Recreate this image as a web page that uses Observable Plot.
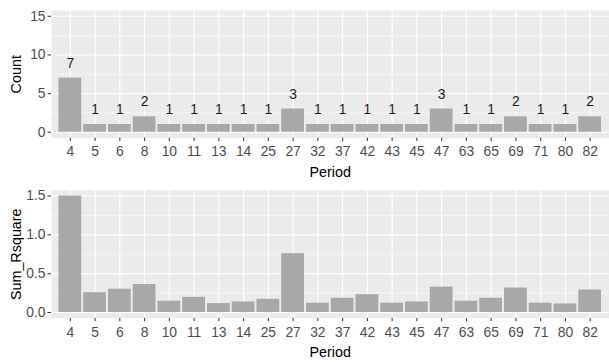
<!DOCTYPE html>
<html>
<head>
<meta charset="utf-8">
<script src="https://cdn.jsdelivr.net/npm/d3@7"></script>
<script src="https://cdn.jsdelivr.net/npm/@observablehq/plot@0.6"></script>
<style>
  html, body { margin: 0; padding: 0; background: #fff; overflow: hidden; }
  #wrap { width: 609px; height: 362px; overflow: hidden; }
  #wrap svg { display: block; }
</style>
</head>
<body>
<div id="wrap"></div>
<script>
const periods = ["4","5","6","8","10","11","13","14","25","27","32","37","42","43","45","47","63","65","69","71","80","82"];
const counts = [7,1,1,2,1,1,1,1,1,3,1,1,1,1,1,3,1,1,2,1,1,2];
const sumRsquare = [1.5,0.255,0.30,0.36,0.145,0.195,0.115,0.136,0.17,0.757,0.12,0.183,0.23,0.12,0.136,0.327,0.145,0.183,0.315,0.12,0.11,0.29];
const countTicks = [0,5,10,15];
const countMinor = [2.5,7.5,12.5];
const rsqTicks = [0,0.5,1.0,1.5];
const rsqMinor = [0.25,0.75,1.25];

const topData = periods.map((p,i) => ({period: p, count: counts[i]}));
const botData = periods.map((p,i) => ({period: p, value: sumRsquare[i]}));

const FONT = "'Liberation Sans', Arial, sans-serif";
const W = 615;
const common = {
  width: W, height: 181, marginLeft: 51.5, marginRight: 0.5,
  style: {fontFamily: FONT, fontSize: "14px", background: "transparent", overflow: "visible"}
};
const xScale = {type: "band", domain: periods, paddingInner: 0.1, paddingOuter: 0.15, label: null};

function panel(data, yKey, yDomain, ticks, minor, fmt, yLabel, mTop, mBottom, extra) {
  return Plot.plot({
    ...common,
    marginTop: mTop, marginBottom: mBottom,
    x: xScale,
    y: {domain: yDomain, label: null},
    marks: [
      Plot.frame({fill: "#EBEBEB", stroke: null}),
      Plot.ruleY(minor, {stroke: "#fff", strokeWidth: 0.55}),
      Plot.ruleY(ticks, {stroke: "#fff", strokeWidth: 1.1}),
      Plot.ruleX(periods, {x: d => d, stroke: "#fff", strokeWidth: 1.1}),
      Plot.barY(data, {x: "period", y: yKey, fill: "#A8A8A8"}),
      ...extra,
      Plot.axisX({tickSize: 3.5, tickPadding: 5, stroke: "#333", fill: "#4D4D4D",
        label: "Period", labelAnchor: "center", labelArrow: "none", labelOffset: 39}),
      Plot.axisY({ticks: ticks, tickFormat: fmt, tickSize: 3.5, tickPadding: 2.5,
        stroke: "#333", fill: "#4D4D4D",
        label: yLabel, labelAnchor: "center", labelArrow: "none", labelOffset: 41})
    ]
  });
}

const topChart = panel(topData, "count", [-0.75, 15.75], countTicks, countMinor, d3.format("d"), "Count", 10.1, 42.1, [
  Plot.text(topData, {x: "period", y: "count", text: d => String(d.count), dy: -15, fill: "#1a1a1a"})
]);
const botChart = panel(botData, "value", [-0.075, 1.575], rsqTicks, rsqMinor, d3.format(".1f"), "Sum_Rsquare", 10.8, 40.8, []);

const wrap = document.getElementById("wrap");
wrap.appendChild(topChart);
wrap.appendChild(botChart);
d3.selectAll("#wrap svg text").filter(function(){ return this.textContent === "Period" || this.textContent === "Count" || this.textContent === "Sum_Rsquare"; })
  .attr("fill", "#000").style("font-size", "14.5px");
</script>
</body>
</html>
